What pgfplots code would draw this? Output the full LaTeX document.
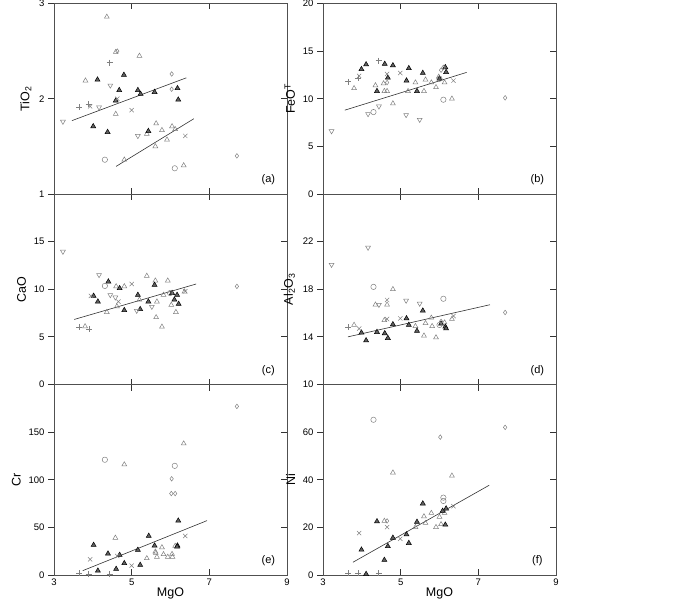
\documentclass[border=0pt]{standalone}
\usepackage{fontspec}
\setmainfont{Liberation Sans}
\usepackage{pgfplots}
\pgfplotsset{compat=1.18}

\definecolor{gry}{RGB}{128,128,128}
\definecolor{fgry}{RGB}{95,95,95}
\definecolor{frame}{RGB}{80,80,80}

\pgfplotsset{
  panel/.style={
    scale only axis, width=233pt, height=190.5pt,
    xmin=3, xmax=9, xtick={3,5,7,9},
    axis line style={frame, line width=0.9pt},
    tick style={black!80, line width=0.9pt},
    major tick length=6pt,
    xtick align=inside, ytick pos=left, ytick align=outside,
    /pgf/number format/assume math mode=true,
    tick label style={font=\fontsize{9.5}{11}\selectfont},
    label style={font=\fontsize{12.5}{14}\selectfont},
    ylabel style={yshift=-5pt},
    xlabel style={yshift=4pt},
    clip=false,
  },
  otri/.style={only marks, mark=triangle, mark size=2.8pt, color=gry, mark options={line width=0.5pt}},
  ftri/.style={only marks, mark=triangle*, mark size=2.9pt, mark options={draw=black, fill=fgry, line width=0.5pt}},
  dtri/.style={only marks, mark=triangle, mark size=2.8pt, color=gry, mark options={rotate=180, line width=0.5pt}},
  ocirc/.style={only marks, mark=o, mark size=2.7pt, color=gry, mark options={line width=0.5pt}},
  odiam/.style={only marks, mark=diamond, mark size=2.3pt, color=gry, mark options={line width=0.5pt}},
  ocross/.style={only marks, mark=x, mark size=3pt, color=gry, mark options={line width=0.5pt}},
  oplus/.style={only marks, mark=+, mark size=3pt, color=gry, mark options={line width=0.5pt}},
  fit/.style={no marks, black!80, line width=0.6pt},
}

\newcommand{\plabel}[1]{\node[font=\fontsize{11}{13}\selectfont] at (rel axis cs:0.92,0.075) {#1};}

\begin{document}
\begin{tikzpicture}[x=1pt,y=1pt]
\useasboundingbox (0,0) rectangle (700,600);

% ---------------- (a) TiO2
\begin{axis}[panel, at={(54pt,406pt)}, ymin=1, ymax=3, ytick={1,2,3},
  xticklabels={}, ylabel={TiO\textsubscript{2}},
  extra y ticks={2}, extra y tick labels={}, extra y tick style={ytick pos=right, tick align=inside}]
\addplot[otri] coordinates {(4.36,2.86) (4.59,2.49) (5.20,2.45) (3.81,2.19) (4.59,1.84) (5.63,1.74)
  (5.39,1.63) (5.78,1.67) (5.91,1.57) (6.04,1.71) (6.12,1.68) (5.61,1.50) (4.81,1.36) (6.34,1.30)};
\addplot[ftri] coordinates {(4.12,2.20) (4.80,2.25) (4.68,2.09) (4.59,1.98) (5.16,2.09) (5.23,2.05)
  (5.59,2.07) (6.18,2.11) (6.20,1.99) (4.01,1.71) (4.38,1.65) (5.43,1.66)};
\addplot[dtri] coordinates {(3.23,1.76) (4.45,2.14) (4.16,1.91) (5.16,1.61)};
\addplot[ocirc] coordinates {(4.31,1.36) (6.11,1.27)};
\addplot[odiam] coordinates {(4.63,2.50) (6.03,2.26) (6.03,2.10) (7.71,1.40)};
\addplot[ocross] coordinates {(3.93,1.92) (4.63,2.00) (5.00,1.88) (6.38,1.61)};
\addplot[oplus] coordinates {(3.65,1.91) (4.43,2.38) (3.89,1.94)};
\addplot[fit] coordinates {(3.46,1.77) (6.41,2.22)};
\addplot[fit] coordinates {(4.60,1.29) (6.60,1.79)};
\plabel{(a)}
\end{axis}

% ---------------- (b) FeOT
\begin{axis}[panel, at={(323pt,406pt)}, ymin=0, ymax=20, ytick={0,5,10,15,20},
  xticklabels={}, ylabel={FeO\textsuperscript{T}},
  extra y ticks={5,10,15}, extra y tick labels={}, extra y tick style={ytick pos=right, tick align=inside}]
\addplot[otri] coordinates {(3.80,11.1) (4.35,11.4) (4.58,10.8) (4.65,10.8) (4.56,11.6) (4.80,9.5)
  (5.19,10.8) (5.38,11.7) (5.60,10.8) (5.64,12.0) (5.79,11.7) (5.91,11.2) (6.13,11.7) (5.98,12.3) (6.32,10.0)};
\addplot[ftri] coordinates {(3.99,13.1) (4.11,13.6) (4.59,13.65) (4.80,13.5) (4.67,12.2) (4.39,10.8)
  (5.21,13.2) (5.15,11.9) (5.42,10.8) (5.57,12.7) (6.00,12.1) (6.15,13.3) (6.17,12.8)};
\addplot[dtri] coordinates {(3.22,6.6) (4.16,8.4) (4.44,9.2) (5.14,8.3) (5.49,7.8)};
\addplot[ocirc] coordinates {(4.30,8.6) (6.10,9.9) (6.00,12.1)};
\addplot[odiam] coordinates {(4.65,11.7) (6.04,13.0) (6.10,13.3) (7.69,10.1)};
\addplot[ocross] coordinates {(3.93,12.4) (4.65,12.6) (4.99,12.7) (6.36,11.9)};
\addplot[oplus] coordinates {(3.65,11.8) (4.43,14.0) (3.90,12.2)};
\addplot[fit] coordinates {(3.56,8.8) (6.70,12.77)};
\plabel{(b)}
\end{axis}

% ---------------- (c) CaO
\begin{axis}[panel, at={(54pt,215.5pt)}, ymin=0, ymax=20, ytick={0,5,10,15},
  xticklabels={}, ylabel={CaO},
  extra y ticks={5,10,15}, extra y tick labels={}, extra y tick style={ytick pos=right, tick align=inside}]
\addplot[otri] coordinates {(3.80,6.1) (4.36,7.6) (4.60,10.3) (4.81,10.3) (4.62,8.2) (5.39,11.4)
  (5.61,10.9) (5.93,10.9) (5.63,7.05) (5.78,6.06) (5.65,8.7) (5.82,9.4) (6.02,8.35) (6.14,7.6) (6.36,9.75) (5.20,8.9)};
\addplot[ftri] coordinates {(4.02,9.3) (4.13,8.7) (4.40,10.8) (4.69,10.1) (4.81,7.8) (5.16,9.4)
  (5.22,7.9) (5.43,8.7) (5.59,10.45) (6.04,9.6) (6.17,9.4) (6.21,8.45) (6.10,8.9)};
\addplot[dtri] coordinates {(3.23,13.95) (4.16,11.5) (4.45,9.4) (4.58,9.15) (5.13,7.75) (5.52,8.17)};
\addplot[ocirc] coordinates {(4.31,10.35) (5.99,9.6)};
\addplot[odiam] coordinates {(7.71,10.3)};
\addplot[ocross] coordinates {(3.95,9.3) (5.00,10.55) (4.66,8.7) (6.38,9.8)};
\addplot[oplus] coordinates {(3.65,6.06) (3.91,5.85)};
\addplot[fit] coordinates {(3.52,6.83) (6.66,10.55)};
\plabel{(c)}
\end{axis}

% ---------------- (d) Al2O3
\begin{axis}[panel, at={(323pt,215.5pt)}, ymin=10, ymax=26, ytick={10,14,18,22},
  xticklabels={}, ylabel={Al\textsubscript{2}O\textsubscript{3}},
  extra y ticks={14,18,22}, extra y tick labels={}, extra y tick style={ytick pos=right, tick align=inside}]
\addplot[otri] coordinates {(3.80,15.0) (4.35,16.7) (4.58,15.4) (4.65,16.7) (4.80,18.0) (5.38,14.9)
  (5.60,14.1) (5.64,15.15) (5.79,15.6) (5.91,13.95) (6.13,15.2) (6.32,15.5) (5.81,14.9)};
\addplot[ftri] coordinates {(3.99,14.35) (4.11,13.7) (4.39,14.4) (4.59,14.3) (4.67,13.9) (4.80,15.05)
  (5.15,15.55) (5.21,15.0) (5.42,14.5) (5.57,16.2) (6.04,15.1) (6.15,14.85) (6.17,14.7)};
\addplot[dtri] coordinates {(3.22,20.06) (4.16,21.5) (4.44,16.7) (5.14,17.05) (5.49,16.8)};
\addplot[ocirc] coordinates {(4.30,18.2) (6.10,17.2) (6.00,15.0)};
\addplot[odiam] coordinates {(7.69,16.05) (6.04,15.3)};
\addplot[ocross] coordinates {(3.93,14.7) (4.65,17.1) (4.99,15.55) (6.36,15.75) (4.65,15.5)};
\addplot[oplus] coordinates {(3.65,14.8)};
\addplot[fit] coordinates {(3.64,14.0) (7.30,16.7)};
\plabel{(d)}
\end{axis}

% ---------------- (e) Cr
\begin{axis}[panel, at={(54pt,25pt)}, ymin=0, ymax=200, ytick={0,50,100,150},
  xticklabels={3,5,7,9}, xlabel={MgO}, ylabel={Cr},
  extra y ticks={50,100,150}, extra y tick labels={}, extra y tick style={ytick pos=right, tick align=inside}]
\addplot[otri] coordinates {(4.81,116) (6.34,138) (4.58,39) (5.39,17.5) (5.61,24.5) (5.65,19)
  (5.78,29) (5.82,21.7) (5.93,19) (6.04,22) (6.05,19) (6.12,30.5) (5.62,23)};
\addplot[ftri] coordinates {(4.02,31.5) (4.13,4.5) (4.39,22.4) (4.69,21) (4.60,6.3) (4.81,12.3)
  (5.16,26.3) (5.22,10.5) (5.44,41) (5.59,30.8) (6.18,30.8) (6.20,57) (6.17,29.8)};
\addplot[ocirc] coordinates {(4.31,121) (6.11,114.6)};
\addplot[odiam] coordinates {(7.71,177) (6.03,101) (6.02,85.5) (6.12,85.5)};
\addplot[ocross] coordinates {(3.93,16.5) (4.63,20) (5.00,9.8) (6.38,41)};
\addplot[oplus] coordinates {(3.65,1.75) (3.89,1) (4.43,1)};
\addplot[fit] coordinates {(3.74,4.55) (6.94,57.1)};
\plabel{(e)}
\end{axis}

% ---------------- (f) Ni
\begin{axis}[panel, at={(323pt,25pt)}, ymin=0, ymax=80, ytick={0,20,40,60},
  xticklabels={3,5,7,9}, xlabel={MgO}, ylabel={Ni},
  extra y ticks={20,40,60}, extra y tick labels={}, extra y tick style={ytick pos=right, tick align=inside}]
\addplot[otri] coordinates {(4.80,43) (6.32,41.7) (4.58,22.7) (5.38,20.1) (5.60,24.6) (5.64,21.8)
  (5.79,26) (5.91,20.1) (6.00,24.4) (6.04,21.3) (6.13,26)};
\addplot[ftri] coordinates {(3.99,10.6) (4.11,0.4) (4.39,22.5) (4.58,6.3) (4.67,12.1) (4.80,15.6)
  (5.15,17) (5.21,13.4) (5.42,22.3) (5.57,30) (6.15,21.1) (6.17,27.9) (6.08,26.9)};
\addplot[ocirc] coordinates {(4.30,65.2) (6.10,32.5) (6.10,31.1)};
\addplot[odiam] coordinates {(6.02,57.9) (7.69,62) (4.65,22.7)};
\addplot[ocross] coordinates {(3.93,17.6) (4.65,20.1) (4.99,15.2) (6.36,28.9)};
\addplot[oplus] coordinates {(3.65,0.7) (3.90,0.7) (4.43,0.7)};
\addplot[fit] coordinates {(3.77,5.35) (7.28,37.7)};
\plabel{(f)}
\end{axis}
\end{tikzpicture}
\end{document}
